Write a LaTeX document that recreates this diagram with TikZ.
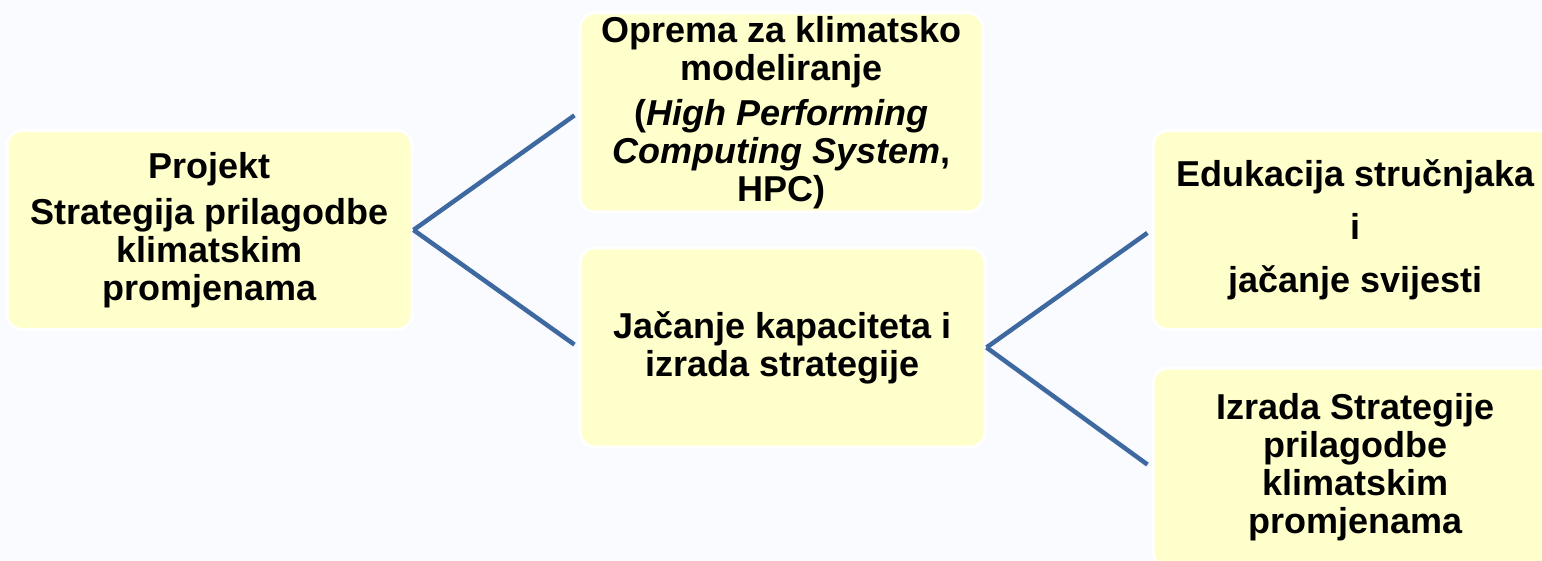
\documentclass[tikz,border=0pt]{standalone}
\usepackage{fontspec}
\setmainfont{Liberation Sans}
\definecolor{bgcol}{RGB}{250,251,254}
\definecolor{boxcol}{RGB}{255,255,204}
\definecolor{linecol}{RGB}{62,104,160}
\begin{document}
\begin{tikzpicture}[x=1pt,y=-1pt,
  box/.style={rectangle, rounded corners=15pt, fill=boxcol, draw=white, line width=3pt,
    minimum width=405pt, minimum height=199pt, inner sep=0pt, align=center,
    font=\fontsize{36}{38}\selectfont\bfseries},
  conn/.style={draw=linecol, line width=4.5pt, shorten >=5pt}]
\fill[bgcol] (0,0) rectangle (1542,561);
\useasboundingbox (0,0) rectangle (1542,561);
\node[box] (proj) at (209.5,230) {Projekt\\[8pt] Strategija prilagodbe\\ klimatskim\\ promjenama};
\node[box, minimum width=403pt] (opr) at (781.5,112.5) {Oprema za klimatsko\\ modeliranje\\[7pt] (\textit{High Performing}\\ \textit{Computing System},\\ HPC)};
\node[box] (jac) at (782.5,347.5) {Jačanje kapaciteta i\\ izrada strategije};
\node[box] (edu) at (1355.5,230) {Edukacija stručnjaka\\[15pt] i\\[15pt] jačanje svijesti};
\node[box] (izr) at (1355.5,467.5) {Izrada Strategije\\ prilagodbe\\ klimatskim\\ promjenama};
\draw[conn] (proj.east) -- (opr.west);
\draw[conn] (proj.east) -- (jac.west);
\draw[conn] (jac.east) -- (edu.west);
\draw[conn] (jac.east) -- (izr.west);
\end{tikzpicture}
\end{document}
